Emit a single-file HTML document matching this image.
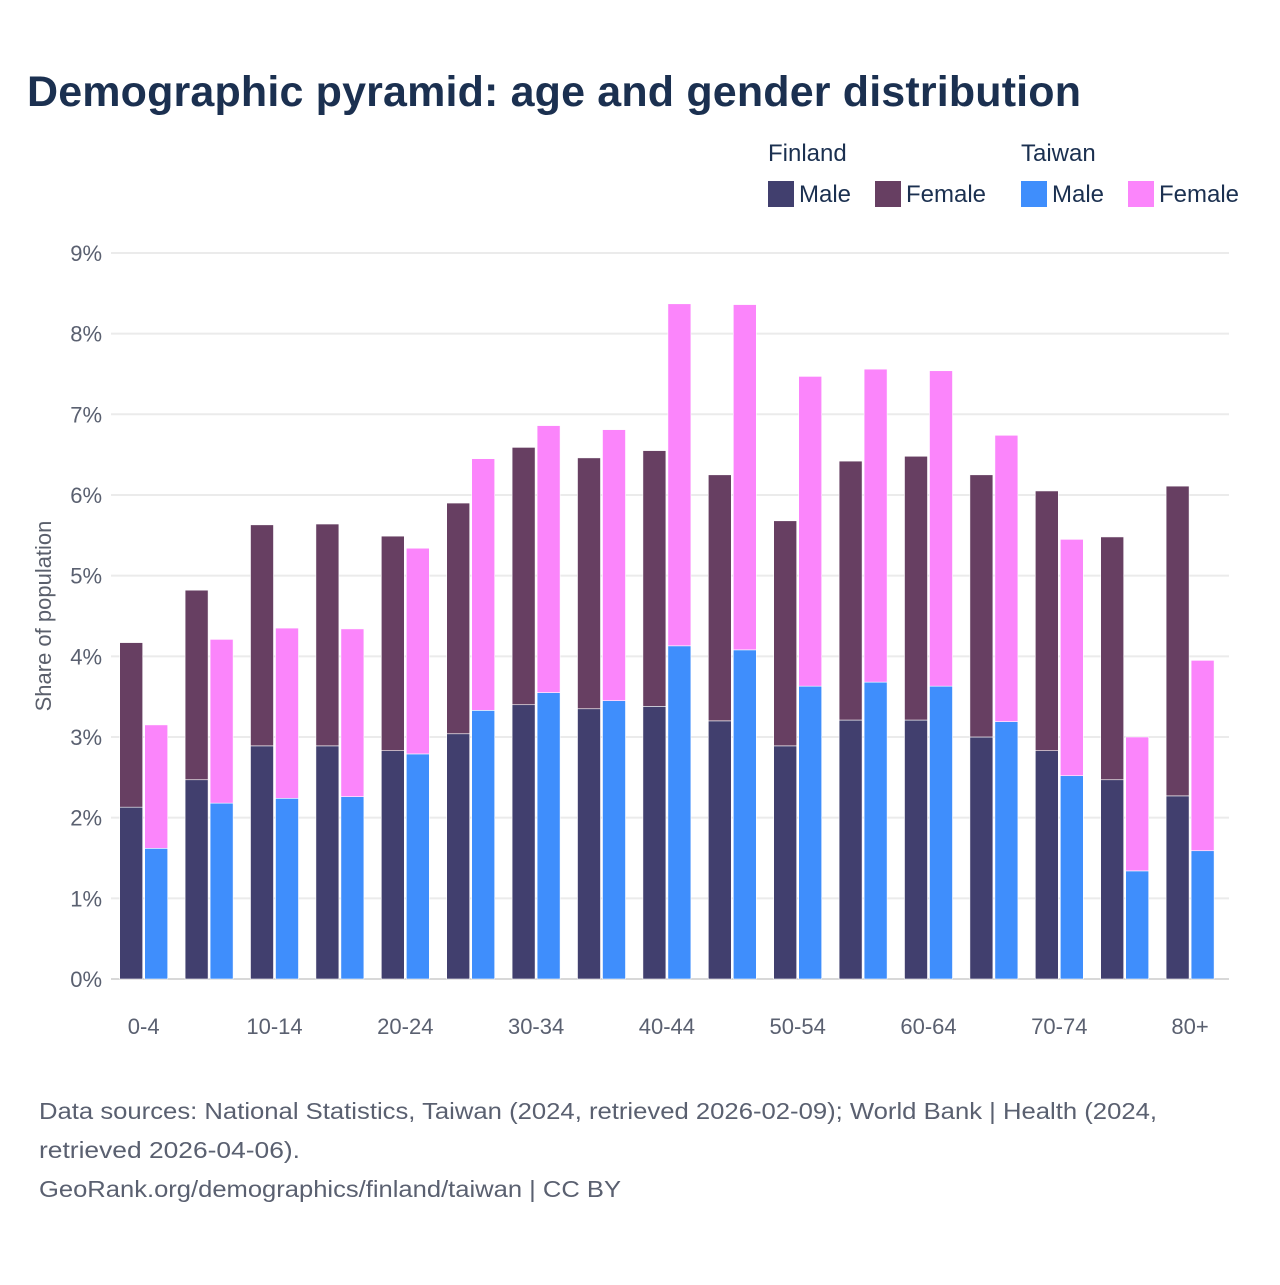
<!DOCTYPE html>
<html><head><meta charset="utf-8"><style>
body{margin:0;background:#fff;font-family:"Liberation Sans",sans-serif;}
svg text{font-family:"Liberation Sans",sans-serif;}
</style></head><body>
<svg width="1280" height="1280" viewBox="0 0 1280 1280">
<rect width="1280" height="1280" fill="#fff"/>
<text x="27" y="106" font-size="43" font-weight="bold" fill="#1b3050" textLength="1054">Demographic pyramid: age and gender distribution</text>
<g font-size="24" fill="#1b3050">
<text x="768" y="161">Finland</text>
<text x="1021" y="161">Taiwan</text>
<g><rect x="768" y="181" width="26" height="26" fill="#413f6e"/><text x="799" y="202">Male</text></g>
<g><rect x="875" y="181" width="26" height="26" fill="#673f62"/><text x="906" y="202">Female</text></g>
<g><rect x="1021" y="181" width="26" height="26" fill="#3f8efc"/><text x="1052" y="202">Male</text></g>
<g><rect x="1128" y="181" width="26" height="26" fill="#fb85fb"/><text x="1159" y="202">Female</text></g>
</g>
<g id="grid"></g>
<g id="bars"></g>
<g id="xlabels"></g>
<text transform="translate(51,616) rotate(-90)" text-anchor="middle" font-size="22" fill="#5a5f6b">Share of population</text>
<g font-size="23" fill="#5a6070">
<text x="39" y="1119" textLength="1118" lengthAdjust="spacingAndGlyphs">Data sources: National Statistics, Taiwan (2024, retrieved 2026-02-09); World Bank | Health (2024,</text>
<text x="39" y="1158" textLength="261" lengthAdjust="spacingAndGlyphs">retrieved 2026-04-06).</text>
<text x="39" y="1197" textLength="582" lengthAdjust="spacingAndGlyphs">GeoRank.org/demographics/finland/taiwan | CC BY</text>
</g>
</svg>
<script>
const categories=["0-4","5-9","10-14","15-19","20-24","25-29","30-34","35-39","40-44","45-49","50-54","55-59","60-64","65-69","70-74","75-79","80+"];
const finMale=[2.13,2.47,2.89,2.89,2.83,3.04,3.40,3.35,3.38,3.20,2.89,3.21,3.21,3.00,2.83,2.47,2.27];
const finFemale=[2.04,2.35,2.74,2.75,2.66,2.86,3.19,3.11,3.17,3.05,2.79,3.21,3.27,3.25,3.22,3.01,3.84];
const twMale=[1.62,2.18,2.24,2.26,2.79,3.33,3.55,3.45,4.13,4.08,3.63,3.68,3.63,3.19,2.52,1.34,1.59];
const twFemale=[1.53,2.03,2.11,2.08,2.55,3.12,3.31,3.36,4.24,4.28,3.84,3.88,3.91,3.55,2.93,1.66,2.36];
const yTicks=[0,1,2,3,4,5,6,7,8,9];
const NS="http://www.w3.org/2000/svg";
const y0=979,pxPer=80.67,x0=111,step=65.4;
const y=v=>y0-v*pxPer;
const xc=i=>x0+step*(i+0.5);
function mk(tag,attrs,parent){const e=document.createElementNS(NS,tag);for(const k in attrs)e.setAttribute(k,attrs[k]);parent.appendChild(e);return e;}
const grid=document.getElementById('grid');
yTicks.forEach(t=>{
 const l=mk('line',{x1:x0,x2:1229,y1:y(t),y2:y(t),stroke:t===0?'#d8d8d8':'#ebebeb','stroke-width':2},grid);
 
 
 const tx=mk('text',{x:102,y:y(t)+8,'text-anchor':'end','font-size':22,fill:'#5a6070'},grid);
 tx.textContent=t+'%';
 
 
});
const bars=document.getElementById('bars');
function bar(x,v0,v1,color,name){
 const r=mk('rect',{x:x,y:y(v1),width:23,height:y(v0)-y(v1),fill:color,stroke:'#fff','stroke-width':0.6},bars);
 
 
}
categories.forEach((c,i)=>{
 const cx=xc(i);
 bar(cx-24,0,finMale[i],'#413f6e','bar-finland-male-'+c);
 bar(cx-24,finMale[i],finMale[i]+finFemale[i],'#673f62','bar-finland-female-'+c);
 bar(cx+1,0,twMale[i],'#3f8efc','bar-taiwan-male-'+c);
 bar(cx+1,twMale[i],twMale[i]+twFemale[i],'#fb85fb','bar-taiwan-female-'+c);
 if(i%2===0){
  const t=mk('text',{x:cx,y:1034,'text-anchor':'middle','font-size':22,fill:'#5a6070'},document.getElementById('xlabels'));
  t.textContent=c;
  
  
 }
});
</script>
</body></html>
